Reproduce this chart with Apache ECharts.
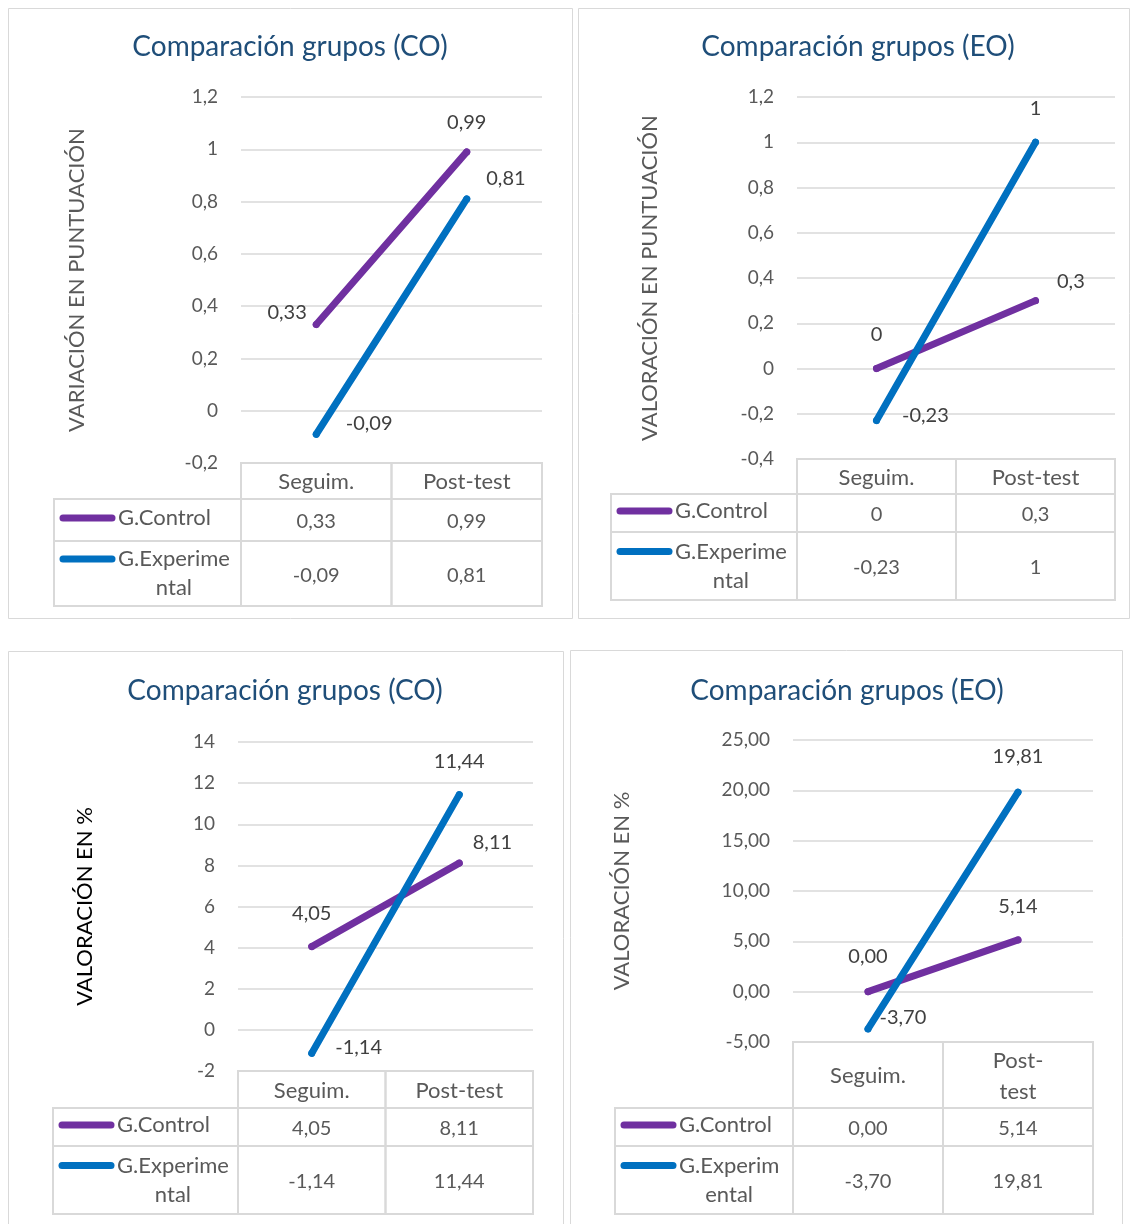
<!DOCTYPE html>
<html><head><meta charset="utf-8">
<script src="https://cdn.jsdelivr.net/npm/echarts@6/dist/echarts.min.js"></script>
<style>html,body{margin:0;padding:0;background:#fff}#c{width:1131px;height:1224px}</style>
</head><body><div id="c"></div>
<script>
// ---------- data ----------
const categories = ['Seguim.', 'Post-test'];
const seriesNames = ['G.Control', 'G.Experimental'];
const titles = ['Comparación grupos (CO)', 'Comparación grupos (EO)', 'Comparación grupos (CO)', 'Comparación grupos (EO)'];
const yAxisNames = ['VARIACIÓN EN PUNTUACIÓN', 'VALORACIÓN EN PUNTUACIÓN', 'VALORACIÓN EN %', 'VALORACIÓN EN %'];
const controlValues = [[0.33, 0.99], [0, 0.3], [4.05, 8.11], [0.00, 5.14]];
const experimentalValues = [[-0.09, 0.81], [-0.23, 1], [-1.14, 11.44], [-3.70, 19.81]];
const yMin = [-0.2, -0.4, -2, -5];
const yMax = [1.2, 1.2, 14, 25];
const yInterval = [0.2, 0.2, 2, 5];
const valueDecimals = [null, null, null, 2];
const legendLines = [['G.Experime', 'ntal'], ['G.Experime', 'ntal'], ['G.Experime', 'ntal'], ['G.Experim', 'ental']];

// ---------- layout / style ----------
const FONT = 'Lato, "Noto Sans", sans-serif';
const TXT = '#595959';
const COLORS = ['#7030A0', '#0070C0'];
const layout = [
  { box: [8, 8, 564, 610], grid: [241, 97, 301, 366], title: [290, 46], nameGap: 153, nameColor: TXT,
    tableLeft: 54, rows: [36, 42, 65], headerWrap: false,
    labels: [[{position: 'left', distance: 6, offset: [0, -12]}, {position: 'top', distance: 16}],
             [{position: 'right', distance: 26, offset: [0, -11]}, {position: 'right', distance: 16, offset: [0, -20]}]] },
  { box: [578, 8, 551, 610], grid: [797, 97, 318, 362], title: [858, 46], nameGap: 136, nameColor: TXT,
    tableLeft: 611, rows: [35, 38, 68], headerWrap: false,
    labels: [[{position: 'top', distance: 20}, {position: 'right', distance: 18, offset: [0, -19]}],
             [{position: 'right', distance: 22, offset: [0, -5]}, {position: 'top', distance: 20}]] },
  { box: [8, 651, 555, 580], grid: [238, 742, 295, 329], title: [285, 690], nameGap: 142, nameColor: '#000000',
    tableLeft: 53, rows: [37, 38, 68], headerWrap: false,
    labels: [[{position: 'top', distance: 20}, {position: 'right', distance: 10, offset: [0, -21]}],
             [{position: 'right', distance: 20, offset: [0, -6]}, {position: 'top', distance: 20}]] },
  { box: [570, 650, 552, 580], grid: [793, 740, 300, 302], title: [847, 690], nameGap: 160, nameColor: TXT,
    tableLeft: 615, rows: [66, 38, 68], headerWrap: true,
    labels: [[{position: 'top', distance: 22}, {position: 'top', distance: 20}],
             [{position: 'right', distance: 8, offset: [0, -11]}, {position: 'top', distance: 22}]] }
];

function fmt(v, d) {
  const s = d == null ? String(Math.round(v * 1e6) / 1e6) : Number(v).toFixed(d);
  return s.replace('.', ',');
}

const chart = echarts.init(document.getElementById('c'), null, {renderer: 'canvas'});

const option = {
  animation: false,
  backgroundColor: '#ffffff',
  textStyle: {fontFamily: FONT},
  title: [], grid: [], xAxis: [], yAxis: [], series: []
};

layout.forEach((L, p) => {
  option.title.push({
    text: titles[p], left: L.title[0], top: L.title[1] - 13, textAlign: 'center', padding: 0,
    textStyle: {color: '#1F4E79', fontSize: 28, fontWeight: 'normal', fontFamily: FONT}
  });
  option.grid.push({left: L.grid[0], top: L.grid[1], width: L.grid[2], height: L.grid[3], containLabel: false});
  option.xAxis.push({
    type: 'category', gridIndex: p, data: categories, boundaryGap: true,
    axisLine: {show: false}, axisTick: {show: false}, axisLabel: {show: false}, splitLine: {show: false}
  });
  option.yAxis.push({
    type: 'value', gridIndex: p, min: yMin[p], max: yMax[p], interval: yInterval[p],
    axisLine: {show: false}, axisTick: {show: false},
    splitLine: {lineStyle: {color: '#D9D9D9', width: 1.5}},
    axisLabel: {formatter: v => fmt(v, valueDecimals[p]), color: TXT, fontSize: 19, margin: 23, fontFamily: FONT},
    name: yAxisNames[p], nameLocation: 'middle', nameRotate: 90, nameGap: L.nameGap,
    nameTextStyle: {color: L.nameColor, fontSize: 22, fontFamily: FONT}
  });
  [controlValues[p], experimentalValues[p]].forEach((vals, s) => {
    option.series.push({
      type: 'line', name: seriesNames[s], xAxisIndex: p, yAxisIndex: p,
      data: vals.map((v, j) => ({value: v, label: L.labels[s][j]})),
      symbol: 'circle', symbolSize: 7, showSymbol: true,
      lineStyle: {width: 7, color: COLORS[s], cap: 'round'},
      itemStyle: {color: COLORS[s]},
      emphasis: {disabled: true},
      label: {show: true, formatter: prm => fmt(prm.value, valueDecimals[p]), color: '#404040', fontSize: 20, fontFamily: FONT},
      z: 2 + s
    });
  });
});

chart.setOption(option);

// ---------- panel boxes and data tables (built from the data and axis geometry) ----------
const meas = document.createElement('canvas').getContext('2d');
function textW(t, size) { meas.font = size + 'px ' + FONT; return meas.measureText(t).width; }

const graphics = [];
const BORDER = {fill: 'none', stroke: '#D9D9D9', lineWidth: 2};
layout.forEach((L, p) => {
  graphics.push({type: 'rect', shape: {x: L.box[0] + 0.5, y: L.box[1] + 0.5, width: L.box[2], height: L.box[3]},
    style: {fill: 'none', stroke: '#D9D9D9', lineWidth: 1}, silent: true});
  const gl = L.grid[0], gr = L.grid[0] + L.grid[2];
  const y0 = chart.convertToPixel({yAxisIndex: p}, yMin[p]);
  const xs = categories.map(c => chart.convertToPixel({xAxisIndex: p}, c));
  const mid = (xs[0] + xs[1]) / 2;
  const colEdges = [gl, mid, gr];
  const y1 = y0 + L.rows[0], y2 = y1 + L.rows[1], y3 = y2 + L.rows[2];
  // header cells
  for (let j = 0; j < 2; j++) {
    graphics.push({type: 'rect', shape: {x: colEdges[j], y: y0, width: colEdges[j + 1] - colEdges[j], height: L.rows[0]}, style: BORDER, silent: true});
    const txt = L.headerWrap ? categories[j].replace('-', '-\n') : categories[j];
    graphics.push({type: 'text', x: xs[j], y: (y0 + y1) / 2 + 1, silent: true,
      style: {text: txt, fill: TXT, font: '22px ' + FONT, textAlign: 'center', textVerticalAlign: 'middle', lineHeight: 31}});
  }
  // data rows
  const rowTops = [y1, y2], rowBots = [y2, y3];
  [controlValues[p], experimentalValues[p]].forEach((vals, s) => {
    const t = rowTops[s], b = rowBots[s], cy = (t + b) / 2;
    const cells = [L.tableLeft, gl, mid, gr];
    for (let k = 0; k < 3; k++) {
      graphics.push({type: 'rect', shape: {x: cells[k], y: t, width: cells[k + 1] - cells[k], height: b - t}, style: BORDER, silent: true});
    }
    vals.forEach((v, j) => {
      graphics.push({type: 'text', x: xs[j], y: cy + 2, silent: true,
        style: {text: fmt(v, valueDecimals[p]), fill: TXT, font: '20px ' + FONT, textAlign: 'center', textVerticalAlign: 'middle'}});
    });
    const lines = s === 0 ? [seriesNames[0]] : legendLines[p];
    const lh = 29;
    const firstY = cy - (lines.length - 1) * lh / 2 - (s === 0 ? 2 : 0);
    graphics.push({type: 'line', silent: true,
      shape: {x1: L.tableLeft + 9, y1: firstY, x2: L.tableLeft + 58, y2: firstY},
      style: {stroke: COLORS[s], lineWidth: 7, lineCap: 'round'}});
    const tx = L.tableLeft + 64;
    const w1 = textW(lines[0], 22);
    lines.forEach((ln, i) => {
      graphics.push({type: 'text', x: i === 0 ? tx : tx + w1 / 2, y: firstY + i * lh, silent: true,
        style: {text: ln, fill: TXT, font: '22px ' + FONT, textAlign: i === 0 ? 'left' : 'center', textVerticalAlign: 'middle'}});
    });
  });
});
chart.setOption({graphic: {elements: graphics}});
</script>
</body></html>
